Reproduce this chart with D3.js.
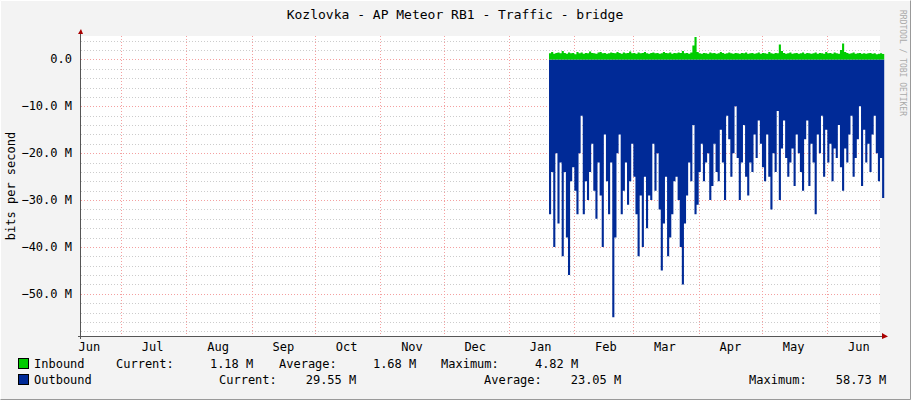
<!DOCTYPE html>
<html><head><meta charset="utf-8">
<script src="https://d3js.org/d3.v7.min.js"></script>
<style>body{margin:0;background:#f3f3f3}text{font-family:"DejaVu Sans Mono",monospace;fill:#000}</style>
</head><body><svg width="911" height="400"></svg>
<script>
var title = 'Kozlovka - AP Meteor RB1 - Traffic - bridge';
var rangeStart = new Date(2017, 5, 12), rangeEnd = new Date(2018, 5, 26);
var dataStart = new Date(2018, 0, 20);
var yTicks = [0, -10, -20, -30, -40, -50];
// Mbit/s, one value per day
var inbound = [1.3,1.6,1.2,1.4,1.5,1.3,1.8,1.4,1.2,1.5,1.3,1.4,1.1,1.6,1.3,1.5,1.2,1.4,1.3,1.7,
  1.4,1.3,1.2,1.5,1.6,1.3,1.4,1.2,1.3,1.5,1.4,1.3,1.6,1.4,1.2,1.5,1.3,1.4,1.7,1.3,
  1.4,1.2,1.5,1.3,1.4,1.6,1.3,1.2,1.4,1.5,1.3,1.4,1.2,1.3,1.6,1.4,1.3,1.5,1.2,1.4,
  1.3,1.5,1.4,1.8,1.3,1.4,1.2,1.5,3.0,4.8,1.6,1.3,1.2,1.4,1.3,1.2,1.5,1.3,1.4,1.2,
  1.3,1.6,1.4,1.2,1.3,1.5,1.3,1.2,1.4,1.3,1.2,1.4,1.3,1.5,1.2,1.3,1.4,1.2,1.3,1.5,
  1.2,1.4,1.3,1.2,1.6,1.3,1.2,1.4,1.3,3.2,1.8,1.4,1.2,1.3,1.5,1.2,1.3,1.4,1.2,1.3,
  1.5,1.2,1.4,1.3,1.2,1.3,1.5,1.2,1.4,1.3,1.2,1.6,1.3,1.4,1.2,1.5,1.3,1.2,2.0,3.4,
  1.6,1.4,1.2,1.3,1.5,1.2,1.3,1.4,1.2,1.3,1.2,1.3,1.4,1.2,1.3,1.1,1.2,1.3,1.18];
var outbound = [-33,-24,-40,-20,-35,-22,-42,-24,-38,-46,-26,
  -23,-28,-33,-20,-12,-33,-26,-30,-24,-18,-28,-34,-22,-29,-40,-16,-26,-33,-22,-55,-38,-20,-16,-33,-28,-22,-31,-26,-18,
  -25,-33,-42,-29,-40,-25,-36,-29,-30,-18,-28,-20,-32,-45,-35,-25,-42,-38,-33,-26,-25,-30,-40,-48,-35,-29,-22,-26,-14,-33,
  -31,-24,-18,-26,-22,-20,-30,-27,-18,-24,-26,-15,-22,-30,-12,-17,-25,-20,-10,-21,-30,-22,-14,-25,-29,-22,-24,-16,-21,-13,
  -18,-23,-26,-16,-25,-32,-20,-24,-11,-30,-19,-13,-21,-25,-22,-19,-27,-16,-20,-24,-28,-17,-13,-27,-18,-22,-33,-16,-20,-12,-25,
  -15,-22,-18,-26,-19,-21,-14,-23,-28,-19,-22,-16,-12,-25,-21,-17,-10,-27,-15,-22,-18,-24,-16,-12,-20,-26,-21,-29.55];
var legendIn = ['Inbound', 'Current:     1.18 M', 'Average:     1.68 M', 'Maximum:     4.82 M'];
var legendOut = ['Outbound', 'Current:    29.55 M', 'Average:    23.05 M', 'Maximum:    58.73 M'];

var svg = d3.select('svg');
var pLeft = 81, pRight = 880, pTop = 36, pBottom = 336;
svg.append('rect').attr('width', 911).attr('height', 400).attr('fill', '#f3f3f3');
svg.append('path').attr('d', 'M0.5,399.5V0.5H910.5').attr('stroke', '#fff').attr('fill', 'none');
svg.append('path').attr('d', 'M910.5,0.5V399.5H0.5').attr('stroke', '#999').attr('fill', 'none');
svg.append('rect').attr('x', pLeft).attr('y', pTop).attr('width', pRight - pLeft).attr('height', pBottom - pTop).attr('fill', '#fff');

var x = d3.scaleTime().domain([rangeStart, rangeEnd]).range([pLeft, pRight]);
var y = d3.scaleLinear().domain([-59, 5]).range([pBottom, pTop]);

// grid
var g = svg.append('g').attr('shape-rendering', 'crispEdges');
g.selectAll('.ymin').data(d3.range(-58, 5, 2).filter(function(v){ return v % 10 !== 0; }))
  .enter().append('line').attr('x1', pLeft).attr('x2', pRight)
  .attr('y1', function(d){ return Math.round(y(d)) + 0.5; }).attr('y2', function(d){ return Math.round(y(d)) + 0.5; })
  .attr('stroke', '#ccc').attr('stroke-dasharray', '1,2');
var months = d3.timeMonth.range(d3.timeMonth.ceil(rangeStart), rangeEnd);

// data
var days = d3.timeDay.range(dataStart, d3.timeDay.offset(dataStart, outbound.length + 1));
var area = function(vals){
  return d3.area().curve(d3.curveStepAfter)
    .x(function(d, i){ return x(days[i]); })
    .y0(y(0)).y1(function(d){ return y(d); })(vals.concat([vals[vals.length - 1]]));
};
svg.append('path').attr('d', area(outbound)).attr('fill', '#002a97');
svg.append('path').attr('d', area(inbound)).attr('fill', '#00cc00');

g.selectAll('.ymaj').data(yTicks).enter().append('line').attr('x1', pLeft).attr('x2', pRight)
  .attr('y1', function(d){ return Math.round(y(d)) + 0.5; }).attr('y2', function(d){ return Math.round(y(d)) + 0.5; })
  .attr('stroke', '#f4a0a0').attr('stroke-dasharray', '1,2');
g.selectAll('.xmaj').data(months).enter().append('line').attr('y1', pTop).attr('y2', pBottom)
  .attr('x1', function(d){ return Math.round(x(d)) + 0.5; }).attr('x2', function(d){ return Math.round(x(d)) + 0.5; })
  .attr('stroke', '#f4a0a0').attr('stroke-dasharray', '1,2');

// axes
svg.append('path').attr('d', 'M' + (pLeft - 0.5) + ',' + (pBottom + 3) + 'V' + (pTop - 4))
  .attr('stroke', '#555').attr('shape-rendering', 'crispEdges');
svg.append('path').attr('d', 'M' + (pLeft - 3) + ',' + (pBottom + 0.5) + 'H' + (pRight + 4))
  .attr('stroke', '#555').attr('shape-rendering', 'crispEdges');
svg.append('path').attr('d', 'M' + (pLeft - 3) + ',' + (pTop - 2) + 'L' + pLeft + ',' + (pTop - 7) + 'L' + (pLeft + 2) + ',' + (pTop - 2) + 'Z').attr('fill', '#a00');
svg.append('path').attr('d', 'M' + (pRight + 2) + ',' + (pBottom - 3) + 'L' + (pRight + 8) + ',' + (pBottom + 0.5) + 'L' + (pRight + 2) + ',' + (pBottom + 3) + 'Z').attr('fill', '#a00');

svg.selectAll('.yl').data(yTicks).enter().append('text')
  .attr('x', 72).attr('y', function(d){ return y(d) + 4; }).attr('text-anchor', 'end').attr('font-size', 12)
  .text(function(d){ return d === 0 ? '0.0' : d3.format('.1f')(d) + ' M'; });
var monthLabels = d3.timeMonth.range(d3.timeMonth.floor(rangeStart), rangeEnd);
svg.selectAll('.xl').data(monthLabels).enter().append('text')
  .attr('x', function(d){ return Math.max(pLeft + 8, x(d3.timeDay.offset(d, 15))); }).attr('y', 351)
  .attr('text-anchor', 'middle').attr('font-size', 12).text(d3.timeFormat('%b'));

svg.append('text').attr('x', 455).attr('y', 19).attr('text-anchor', 'middle').attr('font-size', 13).text(title);
svg.append('text').attr('transform', 'translate(15,186) rotate(-90)').attr('text-anchor', 'middle').attr('font-size', 12).text('bits per second');
svg.append('text').attr('transform', 'translate(900,10) rotate(90)').attr('font-size', 8).style('fill', '#aaa').text('RRDTOOL / TOBI OETIKER');

// legend
[['#00cc00', 368, legendIn, [34, 116, 279, 441]], ['#002a97', 384, legendOut, [34, 219, 484, 749]]].forEach(function(r){
  svg.append('rect').attr('x', 18.5).attr('y', r[1] - 9.5).attr('width', 10).attr('height', 10).attr('fill', r[0]).attr('stroke', '#000');
  r[2].forEach(function(t, i){
    svg.append('text').attr('x', r[3][i]).attr('y', r[1]).attr('font-size', 12).attr('xml:space', 'preserve').text(t);
  });
});
</script></body></html>
